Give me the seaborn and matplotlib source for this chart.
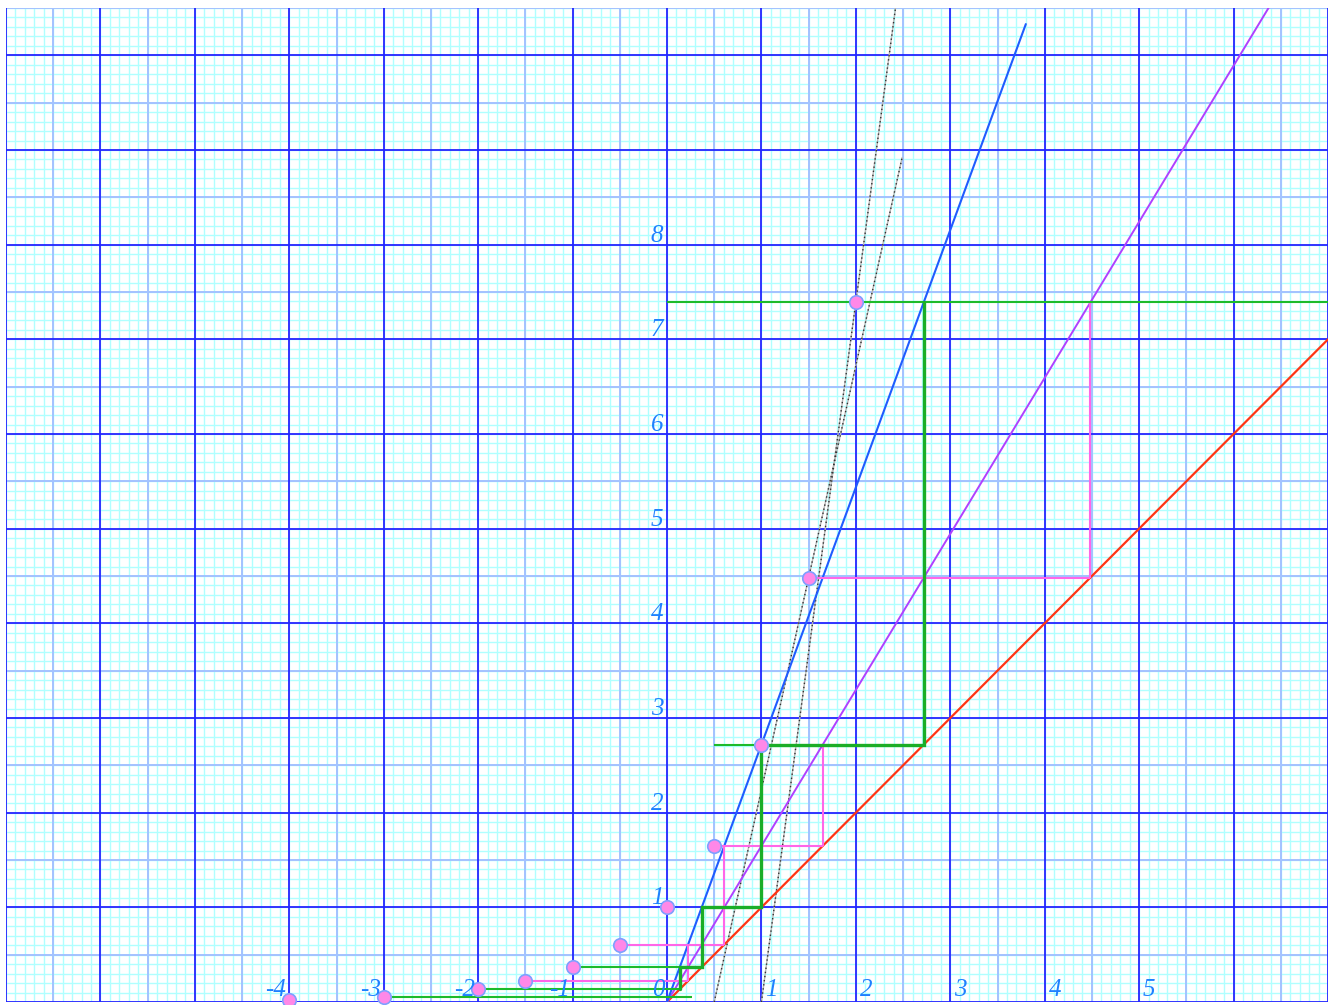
import numpy as np
import pandas as pd
import matplotlib
matplotlib.use("Agg")
import matplotlib.pyplot as plt
import seaborn as sns

# Points (k, e^k) marked on the curve
dot_x = [-4, -3, -2, -1.5, -1, -0.5, 0, 0.5, 1, 1.5, 2]
dot_y = [0.0183, 0.0498, 0.1353, 0.2231, 0.3679, 0.6065, 1.0, 1.6487, 2.7183, 4.4817, 7.3891]

# Straight rays from the origin: y = x, y = e*x, y = sqrt(e)*x
red_x, red_y = [0, 7], [0, 7]
blue_x, blue_y = [0, 3.8], [0, 10.33]
purple_x, purple_y = [0, 6.37], [0, 10.5]

# Tangent lines to e^x at x = 1.5 and x = 2
tan15_x, tan15_y = [0.5, 2.49], [0.0, 8.92]
tan2_x, tan2_y = [1.0, 2.42], [0.0, 10.5]

# Green staircase between y = x and y = e*x
green_step_x = [0.1353, 0.1353, 0.3679, 0.3679, 1.0, 1.0, 2.7183, 2.7183]
green_step_y = [0.1353, 0.3679, 0.3679, 1.0, 1.0, 2.7183, 2.7183, 7.3891]
# Thin green horizontals: (y, x_start, x_end)
green_h_y = [7.3891, 2.7183, 0.3679, 0.1353, 0.0498]
green_h_x0 = [0.0, 0.5, -1.0, -2.0, -3.0]
green_h_x1 = [7.0, 1.0, 0.3679, 0.1353, 0.26]

# Pink staircase between y = x and y = sqrt(e)*x
pink_h_y = [4.4817, 1.6487, 0.6065, 0.2231]
pink_h_x0 = [1.5, 0.5, -0.5, -1.5]
pink_h_x1 = [4.4817, 1.6487, 0.6065, 0.2231]
pink_v_x = [4.4817, 1.6487, 0.6065, 0.2231]
pink_v_y0 = [4.4817, 1.6487, 0.6065, 0.2231]
pink_v_y1 = [7.3891, 2.7183, 1.6487, 0.6065]

x_labels = ["-4", "-3", "-2", "-1", "0", "1", "2", "3", "4", "5"]
x_label_pos = [-4, -3, -2, -1, 0, 1, 2, 3, 4, 5]
y_labels = ["1", "2", "3", "4", "5", "6", "7", "8"]
y_label_pos = [1, 2, 3, 4, 5, 6, 7, 8]

sns.set_theme(style="white")
plt.rcParams["font.family"] = ["Liberation Serif", "DejaVu Serif"]

W, H = 1333, 1005
fig = plt.figure(figsize=(W / 100, H / 100), dpi=100)
ax = fig.add_axes([6 / W, 3 / H, 1322 / W, 994 / H])
XMIN, XMAX, YMIN, YMAX = -7, 7, 0, 10.5
ax.set_xlim(XMIN, XMAX)
ax.set_ylim(YMIN, YMAX)
ax.axis("off")

# Graph-paper grid: fine 0.1, medium 0.5, major 1
fine = np.round(np.arange(XMIN, XMAX + 1e-9, 0.1), 2)
fine_y = np.round(np.arange(YMIN, YMAX + 1e-9, 0.1), 2)
ax.vlines(fine, YMIN, YMAX, color="#b0ffff", lw=1.0, zorder=0)
ax.hlines(fine_y, XMIN, XMAX, color="#b0ffff", lw=1.0, zorder=0)
med = np.arange(XMIN + 0.5, XMAX, 1.0)
med_y = np.arange(YMIN + 0.5, YMAX + 1e-9, 1.0)
ax.vlines(med, YMIN, YMAX, color="#a3c2ff", lw=1.4, zorder=0.5)
ax.hlines(med_y, XMIN, XMAX, color="#a3c2ff", lw=1.4, zorder=0.5)
maj = np.arange(XMIN, XMAX + 1e-9, 1.0)
maj_y = np.arange(YMIN, YMAX, 1.0)
ax.vlines(maj, YMIN, YMAX, color="#2424ff", lw=1.3, zorder=0.6)
ax.hlines(maj_y, XMIN, XMAX, color="#2424ff", lw=1.3, zorder=0.6)

# Tangent lines (light line under dark dots)
for tx, ty in [(tan15_x, tan15_y), (tan2_x, tan2_y)]:
    ax.plot(tx, ty, color="#b8b8b8", lw=1.0, zorder=2)
    ax.plot(tx, ty, color="#333333", lw=1.0, ls=(0, (1, 2)), zorder=2.1)

# Rays
sns.lineplot(x=red_x, y=red_y, ax=ax, color="#ff3514", lw=1.6, zorder=3)
sns.lineplot(x=purple_x, y=purple_y, ax=ax, color="#b040ff", lw=1.4, zorder=3)
sns.lineplot(x=blue_x, y=blue_y, ax=ax, color="#1f5cff", lw=1.5, zorder=3)

# Pink staircase
ax.hlines(pink_h_y, pink_h_x0, pink_h_x1, color="#ff66e8", lw=1.5, zorder=3.5)
ax.vlines(pink_v_x, pink_v_y0, pink_v_y1, color="#ff66e8", lw=1.5, zorder=3.5)

# Green staircase
ax.hlines(green_h_y, green_h_x0, green_h_x1, color="#1dbb2a", lw=1.5, zorder=4)
ax.plot(green_step_x, green_step_y, color="#1aae28", lw=2.4, zorder=4.1,
        solid_joinstyle="miter")

# Points on e^x
pts = pd.DataFrame({"x": dot_x, "y": dot_y})
sns.scatterplot(data=pts, x="x", y="y", ax=ax, s=95, color="#ff88e8",
                edgecolor="#7fa0ff", linewidth=1.2, zorder=6, clip_on=False)

# Axis numbers
lab_kw = dict(color="#1e80ff", fontsize=18, style="italic", zorder=7)
for s, v in zip(x_labels, x_label_pos):
    if v <= 0:
        ax.text(v - 0.03, 0.06, s, ha="right", va="baseline", **lab_kw)
    else:
        ax.text(v + 0.04, 0.06, s, ha="left", va="baseline", **lab_kw)
for s, v in zip(y_labels, y_label_pos):
    ax.text(-0.04, v + 0.03, s, ha="right", va="baseline", **lab_kw)

ax.set_xlabel("")
ax.set_ylabel("")
fig.savefig("out.png", dpi=100, facecolor="white")
